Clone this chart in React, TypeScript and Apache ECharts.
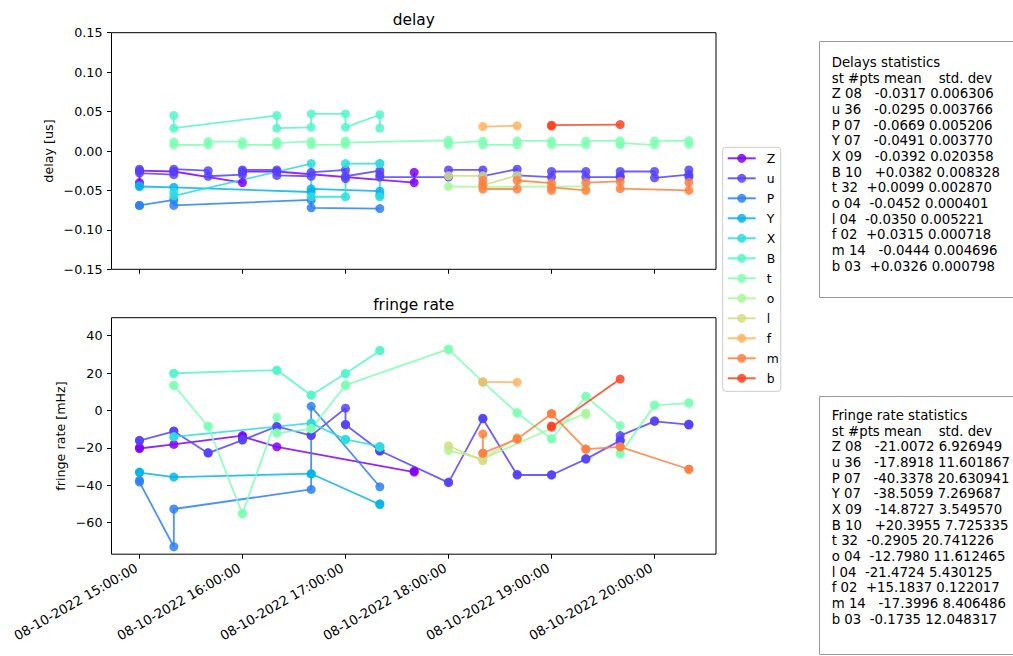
import React, { useEffect, useRef } from "react";
import * as echarts from "echarts";

// ---------------- data ----------------
const STATIONS = ["Z", "u", "P", "Y", "X", "B", "t", "o", "l", "f", "m", "b"];
const COLORS = ["#8000ff", "#5542fd", "#2b80f6", "#00b4ec", "#2bdddd", "#55f6ca", "#80ffb4", "#aaf69b", "#d5dd80", "#ffb462", "#ff8042", "#ff4221"];

const X_TICKS = ["15:00", "16:00", "17:00", "18:00", "19:00", "20:00"];
const DELAY_TICKS = [-0.15, -0.1, -0.05, 0, 0.05, 0.1, 0.15];
const RATE_TICKS = [-60, -40, -20, 0, 20, 40];

const Z_time = ["15:00", "15:00", "15:20", "16:00", "16:00", "16:20", "17:40", "17:40"];
const Z_delay = [-0.040, -0.025, -0.026, -0.040, -0.026, -0.026, -0.040, -0.027];
const Z_rate = [-20.0, -20.4, -18.2, -13.5, -14.0, -19.5, -33.0, -32.5];

const u_time = ["15:00", "15:00", "15:20", "15:20", "15:40", "15:40", "16:00", "16:00", "16:20", "16:20", "16:40", "16:40",
  "17:00", "17:00", "17:00", "17:20", "17:20", "17:20", "18:00", "18:00", "18:20", "18:20", "18:40", "18:40",
  "19:00", "19:00", "19:20", "19:20", "19:40", "19:40", "19:40", "20:00", "20:00", "20:20", "20:20", "20:20"];
const u_delay = [-0.023, -0.028, -0.030, -0.023, -0.025, -0.032, -0.030, -0.024, -0.024, -0.031, -0.032, -0.027,
  -0.024, -0.035, -0.032, -0.025, -0.030, -0.033, -0.033, -0.024, -0.024, -0.032, -0.023, -0.031,
  -0.033, -0.026, -0.026, -0.033, -0.033, -0.032, -0.026, -0.026, -0.034, -0.030, -0.024, -0.033];
const u_rate = [-16.2, -16.0, -11.2, -11.0, -22.9, -22.6, -15.9, -15.6, -8.6, -8.9, -13.5, -13.2,
  1.2, -7.7, -7.5, -21.6, -21.3, -21.8, -38.7, -38.4, -4.5, -4.2, -34.6, -34.3,
  -34.6, -34.4, -26.1, -25.8, -16.2, -16.0, -13.5, -5.9, -5.6, -7.6, -7.3, -7.8];

const P_time = ["15:00", "15:00", "15:20", "15:20", "16:40", "16:40", "17:20"];
const P_delay = [-0.069, -0.069, -0.062, -0.069, -0.062, -0.072, -0.073];
const P_rate = [-37.5, -38.4, -73.0, -52.8, -42.3, 2.2, -40.9];

const Y_time = ["15:00", "15:00", "15:20", "16:40", "16:40", "17:20", "17:20"];
const Y_delay = [-0.044, -0.045, -0.046, -0.052, -0.048, -0.051, -0.056];
const Y_rate = [-33.3, -33.0, -35.7, -33.9, -34.0, -50.4, -50.0];

const X_time = ["15:20", "15:20", "16:40", "16:40", "17:00", "17:00", "17:20", "17:20", "17:20"];
const X_delay = [-0.052, -0.057, -0.016, -0.058, -0.058, -0.016, -0.016, -0.016, -0.058];
const X_rate = [-14.2, -14.0, -6.8, -7.0, -15.5, -15.7, -19.3, -19.5, -19.8];

const B_time = ["15:20", "15:20", "16:20", "16:20", "16:40", "16:40", "17:00", "17:00", "17:20", "17:20"];
const B_delay = [0.045, 0.029, 0.045, 0.029, 0.030, 0.047, 0.047, 0.030, 0.046, 0.029];
const B_rate = [19.9, 19.8, 21.6, 21.4, 8.1, 8.3, 19.8, 19.6, 32.0, 32.2];

const t_time = ["15:20", "15:20", "15:40", "15:40", "16:00", "16:00", "16:20", "16:20", "16:20", "16:40", "16:40",
  "17:00", "17:00", "17:00", "18:00", "18:00", "18:00", "18:20", "18:20", "18:40", "18:40", "19:00", "19:00",
  "19:20", "19:20", "19:40", "19:40", "19:40", "20:00", "20:00", "20:20", "20:20"];
const t_delay = [0.0117, 0.0076, 0.0078, 0.0120, 0.0118, 0.0077, 0.0076, 0.0120, 0.0100, 0.0122, 0.0078,
  0.0080, 0.0128, 0.0105, 0.0136, 0.0076, 0.0100, 0.0125, 0.0078, 0.0078, 0.0128, 0.0128, 0.0078,
  0.0078, 0.0128, 0.0130, 0.0078, 0.0100, 0.0078, 0.0128, 0.0130, 0.0085];
const t_rate = [13.5, 13.3, -8.6, -8.4, -55.5, -55.0, -3.6, -12.2, -12.0, -9.9, -9.7,
  13.5, 13.7, 13.4, 32.8, 32.5, 32.9, 15.3, 15.0, -1.4, -1.2, -15.3, -15.0,
  7.6, 7.4, -8.1, -23.4, -23.1, 2.7, 2.9, 3.9, 4.1];

const o_time = ["18:00", "18:20", "19:20", "19:20"];
const o_delay = [-0.0450, -0.0455, -0.0448, -0.0455];
const o_rate = [-21.5, -26.0, -1.4, -2.3];

const l_time = ["18:00", "18:20", "18:20", "18:40"];
const l_delay = [-0.0315, -0.0315, -0.0435, -0.0310];
const l_rate = [-18.9, -27.0, -26.0, -14.4];

const f_time = ["18:20", "18:40"];
const f_delay = [0.0310, 0.0320];
const f_rate = [15.3, 15.06];

const m_time = ["18:20", "18:20", "18:20", "18:40", "18:40", "19:00", "19:00", "19:00", "19:20", "19:20", "19:40", "19:40", "20:20", "20:20"];
const m_delay = [-0.0374, -0.0430, -0.0482, -0.0482, -0.0374, -0.0407, -0.0500, -0.0460, -0.0500, -0.0400, -0.0386, -0.0478, -0.0500, -0.0400];
const m_rate = [-12.6, -22.9, -22.9, -15.3, -15.3, -1.8, -1.8, -1.8, -20.7, -20.7, -19.5, -19.5, -31.5, -31.5];

const b_time = ["19:00", "19:00", "19:40"];
const b_delay = [0.0317, 0.0327, 0.0335];
const b_rate = [-8.3, -9.0, 16.8];

const DELAY_STATS = [
  "Delays statistics",
  "st #pts mean    std. dev",
  "Z 08   -0.0317 0.006306",
  "u 36   -0.0295 0.003766",
  "P 07   -0.0669 0.005206",
  "Y 07   -0.0491 0.003770",
  "X 09   -0.0392 0.020358",
  "B 10   +0.0382 0.008328",
  "t 32  +0.0099 0.002870",
  "o 04  -0.0452 0.000401",
  "l 04  -0.0350 0.005221",
  "f 02  +0.0315 0.000718",
  "m 14   -0.0444 0.004696",
  "b 03  +0.0326 0.000798",
];
const RATE_STATS = [
  "Fringe rate statistics",
  "st #pts mean    std. dev",
  "Z 08   -21.0072 6.926949",
  "u 36   -17.8918 11.601867",
  "P 07   -40.3378 20.630941",
  "Y 07   -38.5059 7.269687",
  "X 09   -14.8727 3.549570",
  "B 10   +20.3955 7.725335",
  "t 32  -0.2905 20.741226",
  "o 04  -12.7980 11.612465",
  "l 04  -21.4724 5.430125",
  "f 02  +15.1837 0.122017",
  "m 14   -17.3996 8.406486",
  "b 03  -0.1735 12.048317",
];

// ---------------- helpers ----------------
const SERIES_DATA = [
  [Z_time, Z_delay, Z_rate], [u_time, u_delay, u_rate], [P_time, P_delay, P_rate], [Y_time, Y_delay, Y_rate],
  [X_time, X_delay, X_rate], [B_time, B_delay, B_rate], [t_time, t_delay, t_rate], [o_time, o_delay, o_rate],
  [l_time, l_delay, l_rate], [f_time, f_delay, f_rate], [m_time, m_delay, m_rate], [b_time, b_delay, b_rate],
] as [string[], number[], number[]][];

const toMin = (t: string) => {
  const [h, m] = t.split(":").map(Number);
  return (h - 15) * 60 + m;
};
const FONT = "DejaVu Sans";
const FS = 12.7;
const STAT_FS = 13.3;
const nb = (s: string) => s.replace(/ /g, "\u00a0");
const minus = (s: string) => s.replace("-", "\u2212");

const GRID_LEFT = 111.5;
const GRID_W = 604.5;

function buildOption(): any {
  const xTicks = X_TICKS.map(toMin);
  const series: any[] = [];
  SERIES_DATA.forEach(([time, delay, rate], i) => {
    const common = {
      name: STATIONS[i],
      type: "line",
      symbol: "circle",
      symbolSize: 9,
      showSymbol: true,
      silent: true,
      emphasis: { disabled: true },
      lineStyle: { color: COLORS[i], width: 1.8, opacity: 0.85 },
      itemStyle: { color: COLORS[i], opacity: 0.85 },
      clip: false,
    };
    series.push({ ...common, xAxisIndex: 0, yAxisIndex: 0, data: time.map((t, k) => [toMin(t), delay[k]]) });
    series.push({ ...common, xAxisIndex: 1, yAxisIndex: 1, data: time.map((t, k) => [toMin(t), rate[k]]) });
  });

  const xAxisBase = {
    type: "value",
    min: -16.3,
    max: 335.8,
    axisLine: { show: false, onZero: false },
    splitLine: { show: false },
    axisTick: { show: true, customValues: xTicks, length: 4.5, inside: false, lineStyle: { color: "#000", width: 1 } },
  };
  const yAxisBase = {
    type: "value",
    axisLine: { show: false, onZero: false },
    splitLine: { show: false },
  };
  const textStyle = { fontFamily: FONT, fontSize: FS, color: "#000" };

  return {
    animation: false,
    backgroundColor: "#ffffff",
    textStyle: { fontFamily: FONT },
    grid: [
      { left: GRID_LEFT, top: 32.7, width: GRID_W, height: 236.6, show: true, borderColor: "#000", borderWidth: 1, backgroundColor: "transparent", containLabel: false, outerBoundsMode: "none" },
      { left: GRID_LEFT, top: 317.7, width: GRID_W, height: 236.5, show: true, borderColor: "#000", borderWidth: 1, backgroundColor: "transparent", containLabel: false, outerBoundsMode: "none" },
    ],
    xAxis: [
      { ...xAxisBase, gridIndex: 0, position: "bottom", axisLabel: { show: false } },
      {
        ...xAxisBase,
        gridIndex: 1,
        position: "bottom",
        axisLabel: {
          show: true,
          customValues: xTicks,
          rotate: 30,
          margin: 11,
          padding: [0, 3.5, 0, 0],
          ...textStyle,
          fontSize: 13.2,
          hideOverlap: false,
          formatter: (v: number) => {
            const h = 15 + Math.round(v / 60);
            return "08-10-2022 " + String(h).padStart(2, "0") + ":00:00";
          },
        },
      },
    ],
    yAxis: [
      {
        ...yAxisBase,
        gridIndex: 0,
        position: "left",
        min: -0.15,
        max: 0.15,
        axisTick: { show: true, customValues: DELAY_TICKS, length: 4.5, lineStyle: { color: "#000" } },
        axisLabel: {
          show: true,
          customValues: DELAY_TICKS,
          margin: 9,
          ...textStyle,
          formatter: (v: number) => (Math.abs(v) < 1e-9 ? "0.00" : minus(v.toFixed(2))),
        },
      },
      {
        ...yAxisBase,
        gridIndex: 1,
        position: "left",
        min: -77,
        max: 49.65,
        axisTick: { show: true, customValues: RATE_TICKS, length: 4.5, lineStyle: { color: "#000" } },
        axisLabel: {
          show: true,
          customValues: RATE_TICKS,
          margin: 9,
          ...textStyle,
          formatter: (v: number) => minus(String(Math.round(v))),
        },
      },
    ],
    legend: {
      orient: "vertical",
      left: 722.7,
      top: 147.3,
      itemWidth: 28,
      itemHeight: 11.2,
      itemGap: 6,
      padding: [4, 2, 6, 4],
      borderColor: "#cccccc",
      borderWidth: 1,
      borderRadius: 3,
      backgroundColor: "rgba(255,255,255,0.8)",
      selectedMode: false,
      textStyle: { fontFamily: FONT, fontSize: 12.4, color: "#000", lineHeight: 14, padding: [0, 0, 0, 6] },
      data: STATIONS,
    },
    graphic: [
      { type: "text", x: 413.75, y: 19.5, silent: true, style: { text: "delay", fontFamily: FONT, fontSize: 15.4, fill: "#000", align: "center", verticalAlign: "middle" } },
      { type: "text", x: 413.75, y: 304.5, silent: true, style: { text: "fringe rate", fontFamily: FONT, fontSize: 15.4, fill: "#000", align: "center", verticalAlign: "middle" } },
      { type: "text", x: 48.3, y: 151, rotation: Math.PI / 2, silent: true, style: { text: "delay [us]", fontFamily: FONT, fontSize: FS, fill: "#000", align: "center", verticalAlign: "middle" } },
      { type: "text", x: 60, y: 436, rotation: Math.PI / 2, silent: true, style: { text: "fringe rate [mHz]", fontFamily: FONT, fontSize: FS, fill: "#000", align: "center", verticalAlign: "middle" } },
      { type: "rect", silent: true, shape: { x: 819.5, y: 41.5, width: 300, height: 256 }, style: { fill: "#fff", stroke: "#999", lineWidth: 1 } },
      { type: "text", x: 831.7, y: 54.9, silent: true, style: { text: DELAY_STATS.map(nb).join("\n"), fontFamily: FONT, fontSize: STAT_FS, lineHeight: 15.64, fill: "#000", align: "left", verticalAlign: "top" } },
      { type: "rect", silent: true, shape: { x: 819.5, y: 396.5, width: 300, height: 258 }, style: { fill: "#fff", stroke: "#999", lineWidth: 1 } },
      { type: "text", x: 831.7, y: 407.9, silent: true, style: { text: RATE_STATS.map(nb).join("\n"), fontFamily: FONT, fontSize: STAT_FS, lineHeight: 15.64, fill: "#000", align: "left", verticalAlign: "top" } },
    ],
    series,
  };
}

export default function App() {
  const ref = useRef<HTMLDivElement>(null);
  useEffect(() => {
    if (!ref.current) return;
    const chart = echarts.init(ref.current, null, { renderer: "svg" });
    chart.setOption(buildOption());
    return () => chart.dispose();
  }, []);
  return (
    <div
      ref={ref}
      style={{ position: "absolute", left: 0, top: 0, width: 1013, height: 656, background: "#fff" }}
    />
  );
}
